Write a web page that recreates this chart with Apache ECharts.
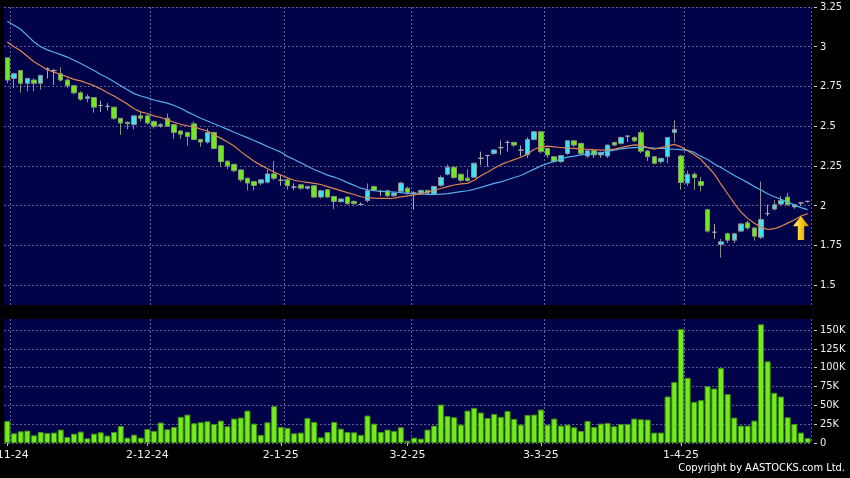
<!DOCTYPE html>
<html>
<head>
<meta charset="utf-8">
<script src="https://cdn.jsdelivr.net/npm/echarts@6/dist/echarts.min.js"></script>
<style>
html,body{margin:0;padding:0;background:#000;}
#chart{width:850px;height:478px;}
</style>
</head>
<body>
<div id="chart"></div>
<script>
const dates = [
'1-11-24','4-11-24','5-11-24','6-11-24','7-11-24','8-11-24','11-11-24','12-11-24','13-11-24','14-11-24','15-11-24',
'18-11-24','19-11-24','20-11-24','21-11-24','22-11-24','25-11-24','26-11-24','27-11-24','28-11-24','29-11-24',
'2-12-24','3-12-24','4-12-24','5-12-24','6-12-24','9-12-24','10-12-24','11-12-24','12-12-24','13-12-24',
'16-12-24','17-12-24','18-12-24','19-12-24','20-12-24','23-12-24','24-12-24','27-12-24','30-12-24','31-12-24',
'2-1-25','3-1-25','6-1-25','7-1-25','8-1-25','9-1-25','10-1-25','13-1-25','14-1-25','15-1-25',
'16-1-25','17-1-25','20-1-25','21-1-25','22-1-25','23-1-25','24-1-25','27-1-25','28-1-25',
'3-2-25','4-2-25','5-2-25','6-2-25','7-2-25','10-2-25','11-2-25','12-2-25','13-2-25','14-2-25',
'17-2-25','18-2-25','19-2-25','20-2-25','21-2-25','24-2-25','25-2-25','26-2-25','27-2-25','28-2-25',
'3-3-25','4-3-25','5-3-25','6-3-25','7-3-25','10-3-25','11-3-25','12-3-25','13-3-25','14-3-25',
'17-3-25','18-3-25','19-3-25','20-3-25','21-3-25','24-3-25','25-3-25','26-3-25','27-3-25','28-3-25','31-3-25',
'1-4-25','2-4-25','3-4-25','7-4-25','8-4-25','9-4-25','10-4-25','11-4-25','14-4-25','15-4-25',
'16-4-25','17-4-25','22-4-25','23-4-25','24-4-25','25-4-25','28-4-25','29-4-25','30-4-25','2-5-25'
];
const tickLabels = ['1-11-24','2-12-24','2-1-25','3-2-25','3-3-25','1-4-25'];
const priceTicks = [1.5,1.75,2,2.25,2.5,2.75,3,3.25];
const volumeTicks = [0,25000,50000,75000,100000,125000,150000];

const open = [
2.93,2.80,2.85,2.77,2.79,2.77,2.86,2.85,2.83,2.79,2.755,2.71,2.675,2.68,2.63,2.625,2.62,2.55,2.525,2.51,2.565,
2.565,2.53,2.50,2.55,2.51,2.47,2.46,2.515,2.417,2.40,2.46,2.377,2.28,2.26,2.225,2.173,2.152,2.142,2.148,2.20,
2.16,2.1625,2.117,2.131,2.11,2.125,2.054,2.10,2.058,2.025,2.054,2.027,2.008,2.033,2.12,2.09,2.094,2.0625,2.09,
2.11,2.08,2.079,2.096,2.073,2.128,2.198,2.242,2.198,2.173,2.179,2.298,2.315,2.329,2.365,2.398,2.398,2.35,2.32,2.417,
2.465,2.36,2.308,2.277,2.329,2.408,2.392,2.3125,2.346,2.319,2.3125,2.398,2.392,2.4375,2.429,2.46,2.344,2.308,2.277,2.308,2.46,
2.3125,2.142,2.198,2.152,1.975,1.833,1.756,1.823,1.783,1.84,1.892,1.86,1.802,1.95,1.979,2.01,2.054,1.992,2.017,2.027
];
const close = [
2.79,2.83,2.77,2.80,2.77,2.82,2.86,2.85,2.79,2.755,2.71,2.67,2.685,2.62,2.63,2.625,2.55,2.52,2.515,2.565,2.55,
2.52,2.50,2.51,2.50,2.46,2.45,2.435,2.417,2.40,2.46,2.36,2.277,2.25,2.22,2.163,2.142,2.127,2.1625,2.20,2.173,
2.16,2.125,2.117,2.11,2.12,2.054,2.094,2.054,2.027,2.042,2.0125,2.0125,2.008,2.094,2.096,2.09,2.0625,2.08,2.142,
2.083,2.08,2.096,2.079,2.121,2.177,2.242,2.177,2.16,2.158,2.267,2.298,2.315,2.35,2.365,2.398,2.381,2.35,2.417,2.465,
2.34,2.319,2.277,2.315,2.408,2.381,2.329,2.346,2.319,2.335,2.381,2.381,2.429,2.4375,2.408,2.343,2.308,2.267,2.298,2.429,2.48,
2.146,2.198,2.177,2.127,1.84,1.833,1.773,1.783,1.823,1.885,1.86,1.808,1.9125,1.95,2.006,2.033,2.006,2.006,2.017,2.027
];
const low = [
2.77,2.74,2.71,2.72,2.72,2.73,2.80,2.76,2.78,2.74,2.70,2.66,2.65,2.585,2.59,2.60,2.54,2.445,2.48,2.48,2.53,
2.51,2.485,2.49,2.495,2.42,2.42,2.377,2.41,2.37,2.39,2.355,2.246,2.23,2.21,2.15,2.096,2.096,2.13,2.14,2.16,
2.125,2.10,2.10,2.10,2.10,2.05,2.045,2.05,1.979,2.02,2.005,2.005,2.005,2.02,2.09,2.06,2.055,2.055,2.085,
2.07,1.975,2.07,2.07,2.065,2.12,2.19,2.17,2.15,2.15,2.175,2.256,2.246,2.32,2.32,2.34,2.37,2.31,2.30,2.41,
2.33,2.30,2.27,2.27,2.32,2.37,2.32,2.30,2.30,2.30,2.30,2.375,2.385,2.40,2.40,2.33,2.28,2.26,2.265,2.267,2.40,
2.10,2.125,2.10,2.09,1.83,1.79,1.673,1.765,1.765,1.835,1.85,1.78,1.79,1.935,1.97,2.00,2.00,1.98,2.00,2.02
];
const high = [
2.93,2.83,2.85,2.80,2.80,2.82,2.87,2.86,2.87,2.80,2.76,2.72,2.70,2.68,2.66,2.645,2.62,2.55,2.53,2.565,2.59,
2.575,2.535,2.52,2.58,2.515,2.475,2.465,2.53,2.42,2.485,2.465,2.38,2.285,2.265,2.23,2.175,2.155,2.165,2.225,2.28,
2.195,2.17,2.14,2.135,2.125,2.13,2.10,2.105,2.06,2.045,2.06,2.033,2.02,2.14,2.125,2.10,2.10,2.085,2.15,
2.12,2.09,2.10,2.10,2.125,2.19,2.26,2.25,2.20,2.229,2.27,2.34,2.32,2.355,2.41,2.41,2.40,2.38,2.43,2.47,
2.47,2.365,2.31,2.32,2.41,2.41,2.395,2.35,2.35,2.34,2.385,2.40,2.435,2.44,2.435,2.475,2.35,2.31,2.30,2.43,2.5375,
2.32,2.22,2.21,2.18,1.98,1.885,1.79,1.83,1.83,1.89,1.905,1.865,2.152,2.006,2.035,2.06,2.08,2.01,2.02,2.03
];
const volume = [
29300,12900,15500,16400,10200,14600,13300,13800,17800,8000,12400,15100,6200,12400,14200,9800,14600,22600,7100,11100,7100,
18600,16000,27100,18200,21300,34600,37700,26200,27500,28800,25300,29700,22200,32400,33700,43000,25700,10700,27500,48800,
21300,20000,12900,13800,33300,28000,7500,14600,28000,19100,14600,14200,10700,36400,25700,14600,17800,16000,20900,
3100,7100,5800,17800,23100,51000,35900,34200,24400,43000,46600,40400,33300,38600,34600,42600,32000,24400,37300,37700,
44400,24400,32400,23100,24400,20900,16000,29300,21300,25700,26600,22200,25300,25300,32400,31500,31100,13800,13800,61700,80800,
151300,86500,54600,56800,75400,72300,99400,64800,33700,23100,23100,29700,157500,108300,66600,61700,34200,25300,13800,6700
];
const maShort = [
3.03,3.00,2.975,2.94,2.905,2.88,2.855,2.84,2.825,2.81,2.795,2.785,2.77,2.755,2.735,2.71,2.69,2.665,2.64,2.61,2.59,
2.58,2.565,2.555,2.54,2.525,2.512,2.503,2.495,2.482,2.47,2.445,2.425,2.40,2.375,2.34,2.31,2.28,2.255,2.232,2.212,
2.193,2.175,2.16,2.152,2.146,2.14,2.133,2.12,2.107,2.095,2.082,2.07,2.056,2.05,2.047,2.046,2.046,2.048,2.055,
2.062,2.068,2.076,2.085,2.097,2.108,2.12,2.13,2.137,2.14,2.16,2.188,2.21,2.235,2.258,2.275,2.29,2.305,2.325,2.355,
2.37,2.375,2.37,2.366,2.362,2.36,2.357,2.355,2.352,2.35,2.352,2.356,2.365,2.375,2.383,2.38,2.365,2.355,2.365,2.375,2.386,
2.37,2.345,2.32,2.29,2.245,2.2,2.135,2.075,2.015,1.96,1.92,1.89,1.865,1.85,1.855,1.87,1.89,1.91,1.935,1.95
];
const maLong = [
3.16,3.135,3.11,3.07,3.03,3.0,2.98,2.965,2.95,2.935,2.915,2.895,2.872,2.85,2.825,2.805,2.78,2.755,2.73,2.705,2.69,
2.678,2.665,2.655,2.645,2.63,2.613,2.59,2.57,2.55,2.533,2.515,2.498,2.48,2.462,2.445,2.428,2.41,2.392,2.372,2.355,
2.337,2.31,2.29,2.27,2.248,2.228,2.21,2.192,2.18,2.165,2.145,2.128,2.11,2.1,2.094,2.09,2.088,2.086,2.082,
2.077,2.074,2.072,2.071,2.071,2.073,2.076,2.082,2.088,2.094,2.103,2.115,2.128,2.14,2.15,2.163,2.177,2.19,2.21,2.23,
2.25,2.265,2.28,2.293,2.305,2.312,2.32,2.325,2.328,2.333,2.342,2.35,2.357,2.362,2.365,2.367,2.366,2.362,2.36,2.357,2.355,
2.352,2.348,2.335,2.31,2.29,2.262,2.24,2.215,2.19,2.168,2.145,2.12,2.098,2.075,2.056,2.04,2.022,2.005,1.988,1.975
];
const arrowAt = ['30-4-25', 1.86];

const FONT = "'DejaVu Sans Condensed','Liberation Sans Narrow','DejaVu Sans',sans-serif";
const NAVY = '#020248';
const GRIDLINE = {color: '#5e5e90', width: 1, type: [2, 2]};
const tickIdx = tickLabels.map(t => dates.indexOf(t));
const showLabel = (i, v) => tickLabels.includes(v);
const splitAt = (i) => tickIdx.includes(i - 1);

const candleData = dates.map((d, i) => [open[i], close[i], low[i], high[i]]);

const chart = echarts.init(document.getElementById('chart'), null, {renderer: 'canvas'});
chart.setOption({
  animation: false,
  backgroundColor: '#000000',
  title: {
    text: 'Copyright by AASTOCKS.com Ltd.',
    right: 5, top: 463, padding: 0,
    textStyle: {color: '#ffffff', fontSize: 11, fontWeight: 'normal', fontFamily: FONT}
  },
  grid: [
    {left: 4, right: 39, top: 7, height: 298, show: true, backgroundColor: NAVY, borderWidth: 0, containLabel: false, outerBoundsMode: 'none'},
    {left: 4, right: 39, top: 319, height: 124, show: true, backgroundColor: NAVY, borderWidth: 0, containLabel: false, outerBoundsMode: 'none'}
  ],
  xAxis: [
    {type: 'category', gridIndex: 0, data: dates, boundaryGap: true,
     axisLine: {show: false}, axisTick: {show: false}, axisLabel: {show: false},
     splitLine: {show: true, interval: splitAt, lineStyle: GRIDLINE}},
    {type: 'category', gridIndex: 1, data: dates, boundaryGap: true, offset: 3,
     axisLine: {show: false},
     axisTick: {show: true, alignWithLabel: true, interval: showLabel, length: 3, lineStyle: {color: '#bbbbbb'}},
     axisLabel: {show: true, interval: showLabel, color: '#eeeeee', fontSize: 11, fontFamily: "'DejaVu Sans',sans-serif", margin: 4},
     splitLine: {show: true, interval: splitAt, lineStyle: GRIDLINE}}
  ],
  yAxis: [
    {type: 'value', gridIndex: 0, position: 'right', min: 1.375, max: 3.25, offset: 3, scale: true,
     axisLine: {show: false},
     axisTick: {show: true, length: 3, customValues: priceTicks, lineStyle: {color: '#cccccc'}},
     axisLabel: {show: true, customValues: priceTicks, color: '#eeeeee', fontSize: 11, fontFamily: FONT, margin: 6,
                 formatter: v => String(+v.toFixed(2))},
     splitLine: {show: true, lineStyle: GRIDLINE}},
    {type: 'value', gridIndex: 1, position: 'right', min: 0, max: 164500, offset: 3,
     axisLine: {show: false},
     axisTick: {show: true, length: 3, customValues: volumeTicks, lineStyle: {color: '#cccccc'}},
     axisLabel: {show: true, customValues: volumeTicks, color: '#eeeeee', fontSize: 11, fontFamily: FONT, margin: 6,
                 formatter: v => v === 0 ? '0' : (v / 1000) + 'K'},
     splitLine: {show: true, lineStyle: GRIDLINE}}
  ],
  series: [
    {type: 'candlestick', xAxisIndex: 0, yAxisIndex: 0, data: candleData, barWidth: 5,
     itemStyle: {color: '#3fe3f0', color0: '#70ea1e', borderColor: '#8f8f8f', borderColor0: '#7f9a70',
                 borderColorDoji: '#a8a8a8', borderWidth: 1}},
    {type: 'line', xAxisIndex: 0, yAxisIndex: 0, data: maLong, showSymbol: false, symbol: 'none',
     lineStyle: {color: '#55aeea', width: 1.2}, z: 3},
    {type: 'line', xAxisIndex: 0, yAxisIndex: 0, data: maShort, showSymbol: false, symbol: 'none',
     lineStyle: {color: '#dd8650', width: 1.2}, z: 3,
     markPoint: {
       symbol: 'path://M5,0 L10,6.5 L7,6.5 L7,15 L3,15 L3,6.5 L0,6.5 Z',
       symbolSize: [16, 24], silent: true, label: {show: false},
       itemStyle: {color: {type: 'linear', x: 0, y: 0, x2: 1, y2: 0,
                   colorStops: [{offset: 0, color: '#fff37a'}, {offset: 0.5, color: '#f7c81a'}, {offset: 1, color: '#c98b00'}]}},
       data: [{coord: arrowAt}]
     }},
    {type: 'bar', xAxisIndex: 1, yAxisIndex: 1, data: volume, barWidth: 6,
     itemStyle: {color: '#74ec1c', borderColor: '#3f8f12', borderWidth: 1}}
  ]
});
</script>
</body>
</html>
